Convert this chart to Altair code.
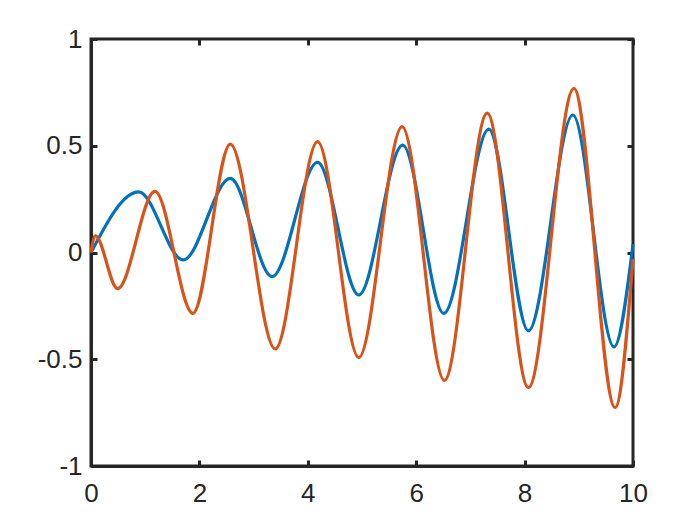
import altair as alt
import pandas as pd

# Values (extrema and end points)
blue_x = [0.0, 0.88, 1.70, 2.57, 3.34, 4.18, 4.94, 5.75, 6.51, 7.34, 8.07, 8.89, 9.65, 10.0]
blue_y = [0.0, 0.284, -0.035, 0.347, -0.113, 0.422, -0.199, 0.503, -0.285, 0.578, -0.367, 0.644, -0.442, 0.039]

orange_x = [0.0, 0.08, 0.49, 1.18, 1.88, 2.57, 3.40, 4.18, 4.94, 5.74, 6.52, 7.31, 8.07, 8.91, 9.67, 10.0]
orange_y = [0.0, 0.078, -0.169, 0.286, -0.285, 0.508, -0.452, 0.519, -0.492, 0.590, -0.599, 0.653, -0.633, 0.769, -0.727, -0.03]

x_ticks = [0, 2, 4, 6, 8, 10]
y_ticks = [-1, -0.5, 0, 0.5, 1]

series = ["a"] * len(blue_x) + ["b"] * len(orange_x)
df = pd.DataFrame({
    "x": blue_x + orange_x,
    "y": blue_y + orange_y,
    "s": series,
})

W, H = 542, 427
AX = "#262626"
FONT = "Liberation Sans"
FS = 26

xs = alt.Scale(domain=[0, 10], nice=False, zero=False)
ys = alt.Scale(domain=[-1, 1], nice=False, zero=False)

base = alt.Chart(df)

lines = base.mark_line(strokeWidth=3.2, interpolate="monotone").encode(
    x=alt.X("x:Q", scale=xs, title=None,
            axis=alt.Axis(orient="bottom", values=x_ticks, tickSize=0, labelPadding=14,
                          labelFontSize=FS, labelColor=AX, labelFont=FONT,
                          labelExpr="'' + datum.value",
                          domainColor=AX, domainWidth=3, grid=False, labelFlush=False)),
    y=alt.Y("y:Q", scale=ys, title=None,
            axis=alt.Axis(orient="left", values=y_ticks, tickSize=0, labelPadding=9,
                          labelFontSize=FS, labelColor=AX, labelFont=FONT,
                          labelExpr="'' + datum.value",
                          domainColor=AX, domainWidth=3, grid=False, labelFlush=False)),
    color=alt.Color("s:N", scale=alt.Scale(domain=["a", "b"], range=["#0072BD", "#D95319"]),
                    legend=None),
    detail="s:N",
)

def tick_axis(orient, vals, offset):
    return alt.Axis(orient=orient, values=vals, offset=offset, labels=False, domain=False,
                    tickSize=6, tickWidth=3, tickColor=AX, grid=False, title=None)

t_bottom = base.mark_point(opacity=0).encode(
    x=alt.X("x:Q", scale=xs, axis=tick_axis("top", x_ticks, -H)),
    y=alt.Y("y:Q", scale=ys, axis=None))
t_top = base.mark_point(opacity=0).encode(
    x=alt.X("x:Q", scale=xs, axis=tick_axis("bottom", x_ticks, -H)),
    y=alt.Y("y:Q", scale=ys, axis=None))
t_left = base.mark_point(opacity=0).encode(
    x=alt.X("x:Q", scale=xs, axis=None),
    y=alt.Y("y:Q", scale=ys, axis=tick_axis("right", y_ticks, -W)))
t_right = base.mark_point(opacity=0).encode(
    x=alt.X("x:Q", scale=xs, axis=None),
    y=alt.Y("y:Q", scale=ys, axis=tick_axis("left", y_ticks, -W)))

chart = alt.layer(lines, t_bottom, t_top, t_left, t_right).resolve_axis(
    x="independent", y="independent"
).properties(
    width=W, height=H,
    autosize=alt.AutoSizeParams(type="none"),
    padding={"left": 83, "top": 31, "right": 50, "bottom": 60},
    background="white",
).configure_view(stroke=AX, strokeWidth=3)

chart.save("out.html", embed_options={"renderer": "svg", "actions": False})
